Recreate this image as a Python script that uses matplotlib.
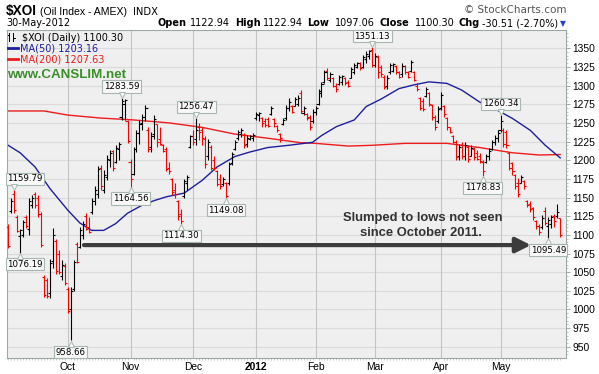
import numpy as np
import pandas as pd
import matplotlib
matplotlib.use("Agg")
import matplotlib.pyplot as plt
from matplotlib.lines import Line2D
from matplotlib import transforms

# --------------------------------------------------
# Data: $XOI daily OHLC, 2 Sep 2011 - 30 May 2012
# --------------------------------------------------
holidays = ["2011-09-05", "2011-11-24", "2011-12-26", "2012-01-02",
            "2012-01-16", "2012-02-20", "2012-04-06", "2012-05-28"]

opens = [
    1110, 1132, 1155, 1124, 1098, 1100, 1124, 1108, 1140, 1155,
    1150, 1128, 1044, 1040, 1022, 1065, 1092, 1075, 1045, 1058,
    1028, 1000, 1028, 1088, 1084, 1100, 1125, 1110, 1130, 1145,
    1155, 1190, 1160, 1178, 1200, 1212, 1198, 1215, 1258, 1275,
    1252, 1198, 1182, 1215, 1236, 1250, 1258, 1240, 1218, 1235,
    1248, 1228, 1220, 1215, 1190, 1175, 1160, 1145, 1128, 1152,
    1170, 1218, 1233, 1228, 1245, 1240, 1228, 1205, 1218, 1200,
    1185, 1175, 1168, 1170, 1170, 1196, 1215, 1230, 1235, 1234,
    1222, 1228, 1230, 1256, 1260, 1256, 1252, 1255, 1262, 1255,
    1246, 1235, 1248, 1256, 1270, 1272, 1272, 1275, 1290, 1263,
    1262, 1258, 1252, 1265, 1276, 1290, 1305, 1320, 1308, 1310,
    1300, 1302, 1305, 1310, 1305, 1310, 1318, 1325, 1330, 1325,
    1335, 1340, 1348, 1328, 1338, 1325, 1312, 1300, 1318, 1320,
    1326, 1318, 1315, 1326, 1318, 1320, 1318, 1300, 1283, 1280,
    1286, 1290, 1274, 1258, 1252, 1270, 1272, 1256, 1244, 1233,
    1225, 1205, 1220, 1205, 1218, 1206, 1215, 1210, 1206, 1198,
    1198, 1205, 1215, 1224, 1230, 1240, 1240, 1238, 1210, 1196,
    1180, 1170, 1170, 1172, 1146, 1142, 1136, 1118, 1112, 1110,
    1132, 1112, 1115, 1125, 1125, 1122.94,
]
highs = [
    1115, 1149, 1159.79, 1126, 1108, 1120, 1127, 1149, 1153, 1158,
    1153, 1131, 1046, 1042, 1068, 1109, 1095, 1080, 1066, 1062,
    1030, 1030, 1066, 1091, 1110, 1118, 1129, 1124, 1150, 1165,
    1192, 1194, 1187, 1207, 1214, 1214, 1220, 1225, 1283.59, 1282,
    1254, 1202, 1218, 1240, 1254, 1262, 1274, 1245, 1238, 1260,
    1249, 1245, 1222, 1218, 1198, 1176, 1170, 1147, 1135, 1175,
    1180, 1234, 1240, 1256.47, 1250, 1245, 1232, 1229, 1220, 1205,
    1187, 1182, 1178, 1171, 1198, 1211, 1227, 1240, 1243, 1236,
    1234, 1234, 1236, 1265, 1265, 1258, 1256, 1258, 1272, 1256,
    1247, 1236, 1256, 1274, 1283, 1274, 1285, 1287, 1294, 1272,
    1263, 1261, 1269, 1272, 1296, 1305, 1321, 1323, 1318, 1312,
    1303, 1314, 1314, 1312, 1307, 1325, 1330, 1332, 1332, 1341,
    1346, 1348, 1351.13, 1344, 1341, 1327, 1314, 1314, 1330, 1330,
    1328, 1320, 1330, 1328, 1320, 1334, 1320, 1303, 1285, 1284,
    1298, 1292, 1276, 1261, 1272, 1292, 1274, 1258, 1245, 1234,
    1227, 1222, 1224, 1224, 1220, 1220, 1218, 1214, 1210, 1200,
    1209, 1216, 1227, 1234, 1240, 1260.34, 1243, 1241, 1211, 1198,
    1182, 1176, 1180, 1173, 1147, 1145, 1138, 1120, 1115, 1126,
    1138, 1124, 1126, 1128, 1141, 1122.94,
]
lows = [
    1082, 1129, 1129, 1104, 1076.19, 1097, 1109, 1100, 1136, 1136,
    1124, 1084, 1017, 1015, 1015, 1055, 1048, 1048, 1040, 1033,
    995, 958.66, 1025, 1062, 1082, 1095, 1106, 1102, 1128, 1140,
    1150, 1160, 1156, 1173, 1191, 1185, 1196, 1200, 1254, 1254,
    1223, 1164.56, 1180, 1211, 1222, 1240, 1252, 1211, 1211, 1229,
    1218, 1220, 1211, 1185, 1182, 1153, 1150, 1120, 1114.30, 1149,
    1160, 1216, 1220, 1220, 1227, 1220, 1189, 1200, 1187, 1187,
    1165, 1162, 1165, 1149.08, 1167, 1194, 1214, 1227, 1231, 1216,
    1218, 1227, 1226, 1254, 1252, 1245, 1245, 1244, 1261, 1245,
    1238, 1225, 1247, 1254, 1266, 1263, 1272, 1272, 1263, 1261,
    1254, 1240, 1250, 1261, 1274, 1285, 1303, 1307, 1305, 1298,
    1292, 1301, 1301, 1301, 1298, 1310, 1316, 1323, 1321, 1323,
    1330, 1335, 1325, 1325, 1310, 1312, 1296, 1296, 1316, 1318,
    1315, 1310, 1312, 1315, 1310, 1318, 1306, 1293, 1267, 1266,
    1285, 1272, 1254, 1240, 1250, 1267, 1258, 1240, 1236, 1223,
    1200, 1200, 1202, 1200, 1198, 1205, 1200, 1200, 1196, 1178.83,
    1196, 1200, 1214, 1220, 1225, 1238, 1218, 1216, 1187, 1180,
    1162, 1151, 1169, 1162, 1138, 1130, 1120, 1108, 1100, 1108,
    1113, 1095.49, 1109, 1111, 1122, 1097.06,
]
closes = [
    1085, 1146, 1133, 1105, 1106, 1117, 1112, 1145, 1150, 1140,
    1128, 1086, 1020, 1018, 1062, 1100, 1052, 1050, 1060, 1035,
    998, 1025, 1064, 1063, 1106, 1115, 1108, 1104, 1146, 1160,
    1188, 1165, 1180, 1202, 1210, 1190, 1216, 1222, 1280, 1281,
    1226, 1175, 1215, 1236, 1248, 1258, 1270, 1215, 1232, 1255,
    1225, 1222, 1213, 1188, 1185, 1158, 1155, 1125, 1118, 1172,
    1178, 1232, 1225, 1240, 1238, 1230, 1195, 1225, 1190, 1189,
    1168, 1165, 1175, 1152, 1195, 1208, 1225, 1238, 1241, 1220,
    1230, 1233, 1234, 1262, 1263, 1250, 1247, 1246, 1270, 1250,
    1240, 1230, 1254, 1270, 1278, 1265, 1282, 1284, 1266, 1270,
    1256, 1245, 1265, 1270, 1293, 1302, 1318, 1310, 1315, 1300,
    1295, 1312, 1313, 1304, 1300, 1322, 1328, 1330, 1323, 1338,
    1343, 1346, 1328, 1340, 1318, 1316, 1298, 1310, 1328, 1329,
    1318, 1312, 1326, 1318, 1312, 1332, 1308, 1296, 1270, 1268,
    1296, 1275, 1258, 1245, 1268, 1288, 1262, 1245, 1238, 1225,
    1204, 1218, 1206, 1220, 1202, 1216, 1204, 1202, 1199, 1185,
    1205, 1212, 1224, 1230, 1236, 1252, 1222, 1220, 1190, 1185,
    1166, 1155, 1178, 1165, 1140, 1134, 1124, 1112, 1104, 1122,
    1116, 1120, 1124, 1118, 1130.81, 1100.30,
]

# moving averages (trading-day index, value)
ma50_idx = [0, 4, 9, 14, 20, 24, 28, 32, 36, 40, 45, 49, 53, 59, 65, 70, 76,
            81, 87, 94, 98, 102, 105, 110, 116, 120, 125, 131, 136, 141, 147,
            152, 158, 164, 169, 175, 180, 185]
ma50_val = [1220, 1210, 1191, 1162, 1133, 1116, 1106, 1106, 1115, 1129, 1140,
            1146, 1151, 1156, 1173, 1191, 1205, 1211, 1217, 1220, 1222, 1224,
            1233, 1245, 1254, 1272, 1282, 1296, 1301, 1305, 1303, 1294, 1278,
            1267, 1256, 1240, 1220, 1203.16]
ma200_idx = [0, 12, 20, 31, 42, 54, 65, 76, 87, 98, 103, 114, 122, 133, 147,
             158, 169, 178, 185]
ma200_val = [1266, 1266, 1260.5, 1256.5, 1254, 1250, 1244, 1235, 1229.5,
             1223.5, 1222.6, 1219, 1220, 1222.6, 1222.6, 1217, 1210, 1207,
             1207.63]

# labelled highs / lows: (value, above-the-bar?)
callouts = [(1159.79, True), (1076.19, False), (958.66, False),
            (1283.59, True), (1164.56, False), (1114.30, False),
            (1256.47, True), (1149.08, False), (1351.13, True),
            (1178.83, False), (1260.34, True), (1095.49, False)]

W, H = 599, 374
SANS = "Liberation Sans"


def fx(px):
    return px / W


def fy(py):
    return 1 - py / H


def main():
    dates = [d for d in pd.bdate_range("2011-09-02", "2012-05-30")
             if d.strftime("%Y-%m-%d") not in holidays]
    x = np.arange(len(dates))
    o, h, l, c = (np.array(a, dtype=float) for a in (opens, highs, lows, closes))
    prev = np.r_[o[0], c[:-1]]
    bar_col = np.where(c < prev, "#ff0000", "#000000")

    fig = plt.figure(figsize=(W / 100, H / 100), dpi=100)
    ax = fig.add_axes([fx(7), fy(358), fx(559), 328 / H])
    ax.set_facecolor("#efefef")

    # gridlines
    for v in range(950, 1351, 25):
        ax.axhline(v, color="#dadada", lw=0.8, zorder=0)
    month_starts = [j for j in range(1, len(dates))
                    if dates[j].month != dates[j - 1].month]
    for j in month_starts:
        ax.axvline(j, color="#c4c4c4", lw=0.8, zorder=0)

    # OHLC bars
    ax.vlines(x, l, h, colors=bar_col, lw=0.8, zorder=3)
    ax.hlines(o, x - 0.7, x, colors=bar_col, lw=0.8, zorder=3)
    ax.hlines(c, x, x + 0.7, colors=bar_col, lw=0.8, zorder=3)

    # moving averages
    ax.plot(ma200_idx, ma200_val, color="#ee1c1c", lw=1.0, zorder=2)
    ax.plot(ma50_idx, ma50_val, color="#1e1e9c", lw=1.0, zorder=2)

    ax.set_xlim(-0.4, 186.95)
    ax.set_ylim(935, 1374.5)

    # axes styling
    for s in ax.spines.values():
        s.set_color("#9aaba3")
        s.set_linewidth(0.8)
    ax.yaxis.tick_right()
    ax.set_yticks(range(950, 1351, 25))
    ax.set_yticklabels([str(v) for v in range(950, 1351, 25)],
                       fontsize=7.4, family=SANS)
    ax.tick_params(axis="y", length=3, width=0.6, color="#9a9a9a", pad=1.5)
    ax.set_yticks(range(940, 1371, 5), minor=True)
    ax.tick_params(axis="y", which="minor", length=1.5, width=0.5,
                   color="#b0b0b0")

    mlabels = [d.strftime("%Y") if d.month == 1 else d.strftime("%b")
               for d in (dates[j] for j in month_starts)]
    ax.set_xticks(month_starts)
    ax.set_xticklabels(mlabels, fontsize=7.4, family=SANS)
    for t in ax.get_xticklabels():
        if t.get_text().isdigit():
            t.set_fontweight("bold")
    ax.tick_params(axis="x", length=0, pad=3)
    ax.set_xticks(x, minor=True)
    ax.tick_params(axis="x", which="minor", length=1.5, width=0.5,
                   color="#b0b0b0")

    # callout boxes at labelled highs / lows
    box = dict(boxstyle="square,pad=0.18", fc="#f8f8f8", ec="#a6b8ae", lw=0.8)
    for val, above in callouts:
        j = int(np.argmin(np.abs((h if above else l) - val)))
        dy = 8.2 if above else -8.5
        # keep the box at the left edge inside the picture
        dx = max(0.0, (24.0 - (6.99 + 2.99 * j)) / 1.389)
        ax.annotate(f"{val:.2f}", xy=(j, val), xytext=(dx, dy),
                    textcoords="offset points", ha="center", va="center",
                    fontsize=6.2, bbox=box, annotation_clip=False, zorder=6)
        tr = transforms.offset_copy(ax.transData, fig,
                                    y=(3.2 if above else -3.2), units="dots")
        ax.plot(j, val, marker="v" if above else "^", ms=4.5, mfc="#f8f8f8",
                mec="#a6b8ae", mew=0.7, transform=tr, clip_on=False,
                zorder=7)

    # arrow and note
    ax.annotate("", xy=(175.2, 1086.3), xytext=(25.4, 1086.3),
                arrowprops=dict(arrowstyle="-|>,head_length=0.9,head_width=0.45",
                                color="#3c3c3c", lw=3.0, shrinkA=0, shrinkB=0),
                zorder=5)
    fig.text(fx(422.5), fy(220.7), "Slumped to lows not seen", ha="center",
             va="baseline", fontsize=9.4, fontweight="bold", family=SANS,
             color="#333333")
    fig.text(fx(421), fy(236.5), "since October 2011.", ha="center",
             va="baseline", fontsize=9.4, fontweight="bold", family=SANS,
             color="#333333")

    # in-chart legend
    fig.add_artist(Line2D([fx(9), fx(9)], [fy(33), fy(41)], color="k", lw=0.7))
    fig.add_artist(Line2D([fx(13), fx(13)], [fy(33), fy(41)], color="k", lw=0.7))
    fig.add_artist(Line2D([fx(7.5), fx(9)], [fy(35), fy(35)], color="k", lw=0.7))
    fig.add_artist(Line2D([fx(13), fx(14.5)], [fy(38), fy(38)], color="k", lw=0.7))
    fig.text(fx(21.5), fy(41), "$XOI (Daily) 1100.30", fontsize=7,
             va="baseline", color="#000000")
    fig.add_artist(Line2D([fx(8), fx(18)], [fy(47.5), fy(47.5)],
                          color="#1e1e9c", lw=2))
    fig.text(fx(19.5), fy(51.5), "MA(50) 1203.16", fontsize=7,
             va="baseline", color="#1e1e9c")
    fig.add_artist(Line2D([fx(8), fx(18)], [fy(59), fy(59)],
                          color="#ee1c1c", lw=2))
    fig.text(fx(19.5), fy(63), "MA(200) 1207.63", fontsize=7,
             va="baseline", color="#ee1c1c")
    fig.text(fx(7), fy(78.5), "www.CANSLIM.net", fontsize=9.6,
             fontweight="bold", family=SANS, va="baseline", color="#3a8f2a")

    # header
    fig.text(fx(6), fy(15), "$XOI", fontsize=9.8, fontweight="bold",
             family=SANS, va="baseline")
    fig.text(fx(39.5), fy(15), "(Oil Index - AMEX)", fontsize=7.6,
             family=SANS, va="baseline")
    fig.text(fx(133.5), fy(15), "INDX", fontsize=7.2, va="baseline")
    fig.text(fx(6), fy(26), "30-May-2012", fontsize=7, va="baseline")
    fig.text(fx(567), fy(13), "\u00a9 StockCharts.com", fontsize=7.5,
             ha="right", va="baseline", color="#555555")
    pieces = [(157, "Open", True), (190, "1122.94", False),
              (235, "High", True), (263, "1122.94", False),
              (307, "Low", True), (335, "1097.06", False),
              (379, "Close", True), (415, "1100.30", False),
              (458, "Chg", True), (482, "-30.51 (-2.70%)", False)]
    for px, txt, bold in pieces:
        fig.text(fx(px), fy(26), txt, fontsize=7, va="baseline",
                 fontweight="bold" if bold else "normal")
    fig.text(fx(563), fy(26), "\u25bc", fontsize=5.5, ha="center",
             va="baseline", color="#2040d0")

    fig.savefig("out.png", dpi=100)
    plt.close(fig)


if __name__ == "__main__":
    main()
